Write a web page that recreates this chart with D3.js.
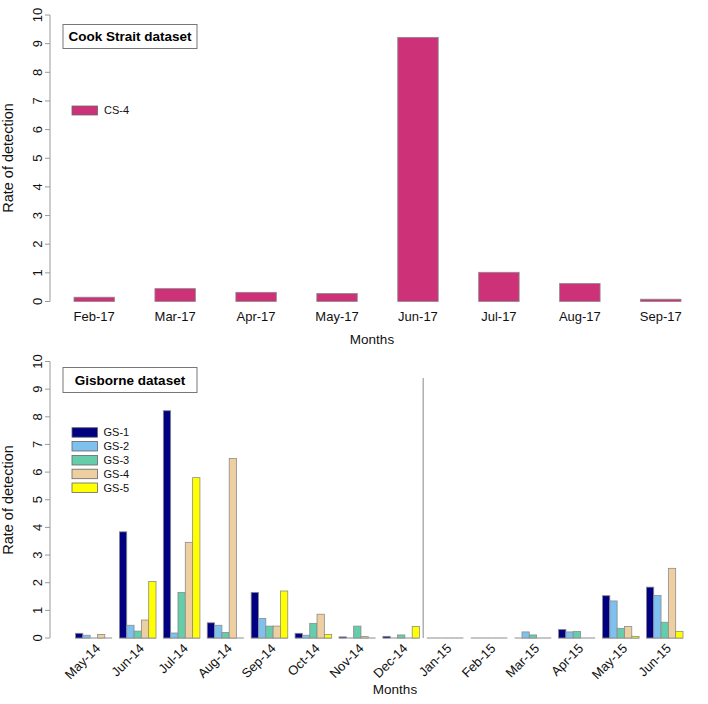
<!DOCTYPE html>
<html>
<head>
<meta charset="utf-8">
<script src="https://cdn.jsdelivr.net/npm/d3@7"></script>
<style>
body { margin: 0; background: #fff; }
svg { display: block; font-family: "Liberation Sans", Arial, sans-serif; }
</style>
</head>
<body>
<svg id="chart" width="708" height="704"></svg>
<script>
// ---- Data ----
const csMonths = ["Feb-17","Mar-17","Apr-17","May-17","Jun-17","Jul-17","Aug-17","Sep-17"];
const cs4 = [0.15, 0.45, 0.32, 0.28, 9.22, 1.02, 0.63, 0.08];

const gsMonths = ["May-14","Jun-14","Jul-14","Aug-14","Sep-14","Oct-14","Nov-14","Dec-14",
                  "Jan-15","Feb-15","Mar-15","Apr-15","May-15","Jun-15"];
const gs1 = [0.17, 3.84, 8.22, 0.55, 1.65, 0.17, 0.04, 0.06, 0, 0, 0,    0.31, 1.53, 1.84];
const gs2 = [0.10, 0.46, 0.18, 0.46, 0.71, 0.10, 0,    0,    0, 0, 0.22, 0.22, 1.34, 1.54];
const gs3 = [0,    0.25, 1.65, 0.20, 0.43, 0.53, 0.43, 0.11, 0, 0, 0.11, 0.24, 0.35, 0.57];
const gs4 = [0.13, 0.65, 3.46, 6.49, 0.43, 0.86, 0.05, 0,    0, 0, 0,    0,    0.42, 2.52];
const gs5 = [0,    2.04, 5.80, 0,    1.70, 0.13, 0,    0.42, 0, 0, 0,    0,    0.06, 0.24];
const gsSeries = ["GS-1","GS-2","GS-3","GS-4","GS-5"];
const gsColors = ["#000080","#7EC0EE","#66CDAA","#EECFA1","#FFFF00"];
const csColor = "#CD3278";
const yTicks = [0,1,2,3,4,5,6,7,8,9,10];
const dividerValue = 9.4;

// ---- Drawing ----
const svg = d3.select("#chart");
const borderCol = "#8c8c8c";
const axisCol = "#9a9a9a";

function yAxis(y, x0) {
  const g = svg.append("g");
  g.append("line").attr("x1", x0).attr("x2", x0)
    .attr("y1", y(0)).attr("y2", y(10)).attr("stroke", axisCol).attr("stroke-width", 1);
  yTicks.forEach(t => {
    g.append("line").attr("x1", x0 - 5).attr("x2", x0).attr("y1", y(t)).attr("y2", y(t))
      .attr("stroke", axisCol);
    g.append("text").attr("transform", `translate(${x0 - 13},${y(t)}) rotate(-90)`)
      .attr("text-anchor", "middle").attr("dy", "0.35em")
      .attr("font-size", 13).attr("fill", "#111").text(t);
  });
}

function titleBox(x, y, w, h, label) {
  svg.append("rect").attr("x", x).attr("y", y).attr("width", w).attr("height", h)
    .attr("fill", "#fff").attr("stroke", "#777").attr("stroke-width", 1);
  svg.append("text").attr("x", x + w / 2).attr("y", y + h / 2).attr("dy", "0.35em")
    .attr("text-anchor", "middle").attr("font-weight", "bold").attr("font-size", 13.5)
    .attr("fill", "#000").text(label);
}

// ---- Top: Cook Strait ----
const xTop = d3.scaleLinear().domain([0.4, 16.6]).range([49.7, 705.3]);
const yTop = d3.scaleLinear().domain([0, 10]).range([301.5, 15]);

yAxis(yTop, 50);
svg.append("g").selectAll("rect").data(cs4).join("rect")
  .attr("x", (d, i) => xTop(1 + 2 * i))
  .attr("width", xTop(2) - xTop(1))
  .attr("y", d => yTop(d))
  .attr("height", d => yTop(0) - yTop(d))
  .attr("fill", csColor).attr("stroke", borderCol).attr("stroke-width", 0.8);

svg.append("g").selectAll("text").data(csMonths).join("text")
  .attr("x", (d, i) => xTop(1.5 + 2 * i)).attr("y", 321)
  .attr("text-anchor", "middle").attr("font-size", 13).attr("fill", "#111").text(d => d);

svg.append("text").attr("x", 372).attr("y", 344).attr("text-anchor", "middle")
  .attr("font-size", 13.5).attr("fill", "#111").text("Months");
svg.append("text").attr("transform", `translate(13,158) rotate(-90)`)
  .attr("text-anchor", "middle").attr("font-size", 14.5).attr("fill", "#111").text("Rate of detection");

titleBox(63, 24.5, 134, 24, "Cook Strait dataset");
svg.append("rect").attr("x", 72).attr("y", 106).attr("width", 25.5).attr("height", 9)
  .attr("fill", csColor).attr("stroke", "#666").attr("stroke-width", 0.8);
svg.append("text").attr("x", 104).attr("y", 110.5).attr("dy", "0.35em")
  .attr("font-size", 11).attr("fill", "#111").text("CS-4");

// ---- Bottom: Gisborne ----
const xBot = d3.scaleLinear().domain([-2.32, 87.32]).range([51.2, 707.3]);
const yBot = d3.scaleLinear().domain([0, 10]).range([638, 361.5]);

yAxis(yBot, 50);
const gsAll = [gs1, gs2, gs3, gs4, gs5];
const flat = [];
gsMonths.forEach((m, gi) => {
  gsAll.forEach((s, si) => {
    flat.push({ v: s[gi], u: 1 + 6 * gi + si, c: gsColors[si] });
  });
});
// baseline border of every bar (visible where the value is zero)
svg.append("g").selectAll("line").data(flat).join("line")
  .attr("x1", d => xBot(d.u)).attr("x2", d => xBot(d.u + 1))
  .attr("y1", yBot(0)).attr("y2", yBot(0))
  .attr("stroke", borderCol).attr("stroke-width", 1);
svg.append("g").selectAll("rect").data(flat.filter(d => d.v > 0)).join("rect")
  .attr("x", d => xBot(d.u))
  .attr("width", xBot(1) - xBot(0))
  .attr("y", d => yBot(d.v))
  .attr("height", d => yBot(0) - yBot(d.v))
  .attr("fill", d => d.c).attr("stroke", borderCol).attr("stroke-width", 0.8);

// divider between Dec-14 and Jan-15
svg.append("line").attr("x1", xBot(48.5)).attr("x2", xBot(48.5))
  .attr("y1", yBot(0)).attr("y2", yBot(dividerValue))
  .attr("stroke", "#888").attr("stroke-width", 1);

svg.append("g").selectAll("text").data(gsMonths).join("text")
  .attr("transform", (d, i) => `translate(${xBot(3.5 + 6 * i) + 4},${646}) rotate(-45)`)
  .attr("text-anchor", "end").attr("dy", "0.35em")
  .attr("font-size", 13).attr("fill", "#111").text(d => d);

svg.append("text").attr("x", 395).attr("y", 694).attr("text-anchor", "middle")
  .attr("font-size", 13.5).attr("fill", "#111").text("Months");
svg.append("text").attr("transform", `translate(13,500) rotate(-90)`)
  .attr("text-anchor", "middle").attr("font-size", 14.5).attr("fill", "#111").text("Rate of detection");

titleBox(63, 367.5, 134, 25, "Gisborne dataset");
const legY = [427.7, 441.5, 455.5, 469.2, 483];
gsSeries.forEach((s, i) => {
  svg.append("rect").attr("x", 72).attr("y", legY[i]).attr("width", 25.5).attr("height", 9.5)
    .attr("fill", gsColors[i]).attr("stroke", "#666").attr("stroke-width", 0.8);
  svg.append("text").attr("x", 103.5).attr("y", legY[i] + 4.8).attr("dy", "0.35em")
    .attr("font-size", 11).attr("fill", "#111").text(s);
});
</script>
</body>
</html>
